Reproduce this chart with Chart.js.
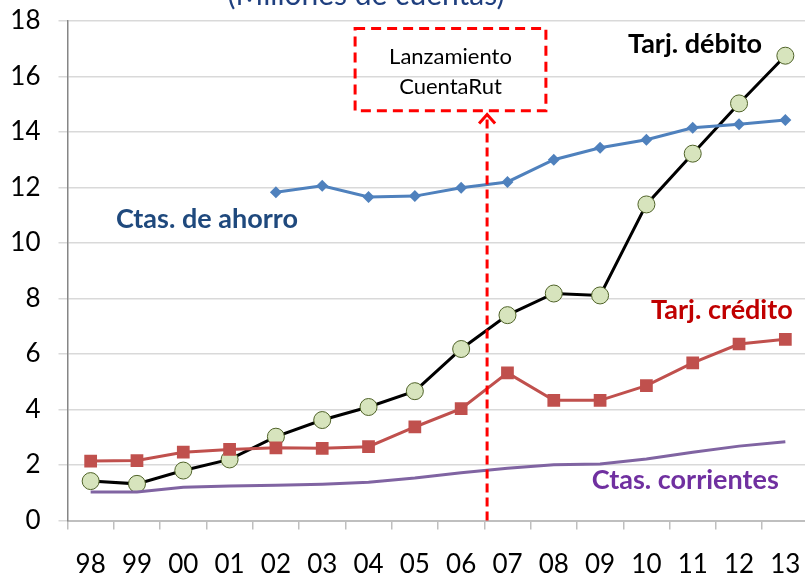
<!DOCTYPE html>
<html>
<head>
<meta charset="utf-8">
<script src="https://cdn.jsdelivr.net/npm/chart.js@4/dist/chart.umd.min.js"></script>
<style>
  html, body { margin: 0; padding: 0; background: #fff; overflow: hidden; }
  #wrap { width: 818px; height: 582px; }
</style>
</head>
<body>
<div id="wrap"><canvas id="cuentas" width="818" height="582"></canvas></div>
<script>
// Numero de cuentas (millones), 1998-2013

const years = ['98', '99', '00', '01', '02', '03', '04', '05', '06', '07', '08', '09', '10', '11', '12', '13'];
const ctasAhorro = [null, null, null, null, 11.83, 12.06, 11.66, 11.69, 11.99, 12.2, 13.0, 13.43, 13.72, 14.15, 14.28, 14.43];
const tarjDebito = [1.42, 1.32, 1.8, 2.2, 3.02, 3.62, 4.09, 4.66, 6.18, 7.4, 8.18, 8.11, 11.39, 13.22, 15.03, 16.75];
const tarjCredito = [2.14, 2.16, 2.46, 2.56, 2.62, 2.6, 2.66, 3.37, 4.03, 5.32, 4.33, 4.33, 4.86, 5.68, 6.36, 6.53];
const ctasCorrientes = [1.03, 1.03, 1.2, 1.24, 1.27, 1.31, 1.38, 1.53, 1.72, 1.88, 2.01, 2.04, 2.22, 2.46, 2.68, 2.84];

const yTicks = [0, 2, 4, 6, 8, 10, 12, 14, 16, 18];

// CuentaRut launch, between 06 and 07 (category index)
const launchAt = 8.56;

const FONT = 'Lato, "Open Sans", sans-serif';

// labels written on the chart, placed in data units (x = category index)
const seriesLabels = [
    { text: 'Tarj. débito', x: 13.05, y: 17.15, color: '#000000' },
    { text: 'Ctas. de ahorro', x: 2.51, y: 10.84, color: '#1F497D' },
    { text: 'Tarj. crédito', x: 13.63, y: 7.56, color: '#C00000' },
    { text: 'Ctas. corrientes', x: 12.84, y: 1.46, color: '#7030A0' }
];

const notes = {
    plugin: 'notes',
    afterDatasetsDraw(chart) {
        const ctx = chart.ctx;
        const xs = chart.scales.x, ys = chart.scales.y;
        const lx = xs.getPixelForValue(launchAt);
        ctx.save();
        ctx.strokeStyle = '#FF0000';
        ctx.lineWidth = 3;
        // vertical dashed line with arrow
        const tipY = ys.getPixelForValue(14.7);
        ctx.setLineDash([9, 5]);
        ctx.beginPath();
        ctx.moveTo(lx, ys.getPixelForValue(0));
        ctx.lineTo(lx, tipY + 2);
        ctx.stroke();
        ctx.setLineDash([]);
        ctx.beginPath();
        ctx.moveTo(lx - 8, tipY + 11);
        ctx.lineTo(lx, tipY + 2);
        ctx.lineTo(lx + 8, tipY + 11);
        ctx.stroke();
        // dashed box
        const bx1 = xs.getPixelForValue(5.71), bx2 = xs.getPixelForValue(9.83);
        const by1 = ys.getPixelForValue(17.73), by2 = ys.getPixelForValue(14.77);
        ctx.setLineDash([10, 6]);
        ctx.strokeRect(bx1, by1, bx2 - bx1, by2 - by1);
        ctx.setLineDash([]);
        ctx.fillStyle = '#000';
        ctx.textAlign = 'center';
        ctx.textBaseline = 'middle';
        ctx.font = '22px ' + FONT;
        const cx = (bx1 + bx2) / 2;
        ctx.fillText('Lanzamiento', cx, ys.getPixelForValue(16.72));
        ctx.fillText('CuentaRut', cx, ys.getPixelForValue(15.64));
        // series labels
        ctx.font = 'bold 27px ' + FONT;
        seriesLabels.forEach(l => {
            ctx.fillStyle = l.color;
            ctx.fillText(l.text, xs.getPixelForValue(l.x), ys.getPixelForValue(l.y));
        });
        // title, cut by the top edge
        ctx.fillStyle = '#1F3F7F';
        ctx.textBaseline = 'alphabetic';
        ctx.font = '30px ' + FONT;
        ctx.fillText('(Millones de cuentas)', 366, 5);
        ctx.restore();
    }
};

const noPad = s => { s.paddingTop = 0; s.paddingBottom = 0; s.paddingLeft = 0; s.paddingRight = 0; };

const ctx = document.getElementById('cuentas').getContext('2d');

const chart = new Chart(ctx, {
    type: 'line',
    data: {
        labels: years,
        datasets: [
            {
                label: 'Ctas. corrientes',
                data: ctasCorrientes,
                borderColor: '#8064A2',
                borderWidth: 3,
                pointRadius: 0,
                tension: 0
            },
            {
                label: 'Tarj. crédito',
                data: tarjCredito,
                borderColor: '#C0504D',
                backgroundColor: '#C0504D',
                borderWidth: 3,
                pointStyle: 'rect',
                pointRadius: 9,
                pointBorderWidth: 0,
                tension: 0
            },
            {
                label: 'Ctas. de ahorro',
                data: ctasAhorro,
                borderColor: '#4F81BD',
                backgroundColor: '#4F81BD',
                borderWidth: 3,
                pointStyle: 'rectRot',
                pointRadius: 6,
                pointBorderWidth: 0,
                tension: 0
            },
            {
                label: 'Tarj. débito',
                data: tarjDebito,
                borderColor: '#000000',
                borderWidth: 3,
                pointStyle: 'circle',
                pointRadius: 8.5,
                pointBackgroundColor: '#D7E4BD',
                pointBorderColor: '#4F6228',
                pointBorderWidth: 1,
                tension: 0
            }
        ]
    },
    options: {
        responsive: false,
        animation: false,
        layout: { padding: { top: 21, right: 2, left: 0, bottom: 0 } },
        plugins: {
            legend: { display: false },
            tooltip: { enabled: false }
        },
        scales: {
            x: {
                offset: true,
                afterFit: s => { s.height = 61.5; noPad(s); },
                grid: { offset: true, drawOnChartArea: false, tickLength: 9, color: '#BFBFBF', lineWidth: 1.5 },
                border: { color: '#BFBFBF', width: 2 },
                ticks: { color: '#000', padding: 20, font: { family: FONT, size: 26 }, maxRotation: 0 }
            },
            y: {
                min: 0,
                max: 18,
                afterFit: s => { s.width = 67.5; noPad(s); },
                afterBuildTicks: s => { s.ticks = yTicks.map(v => ({ value: v })); },
                grid: { color: '#D9D9D9', lineWidth: 1.5, tickLength: 9 },
                border: { color: '#868686', width: 1.5 },
                ticks: { color: '#000', padding: 18, font: { family: FONT, size: 26 } }
            }
        }
    },
    plugins: [notes]
});
</script>
</body>
</html>
